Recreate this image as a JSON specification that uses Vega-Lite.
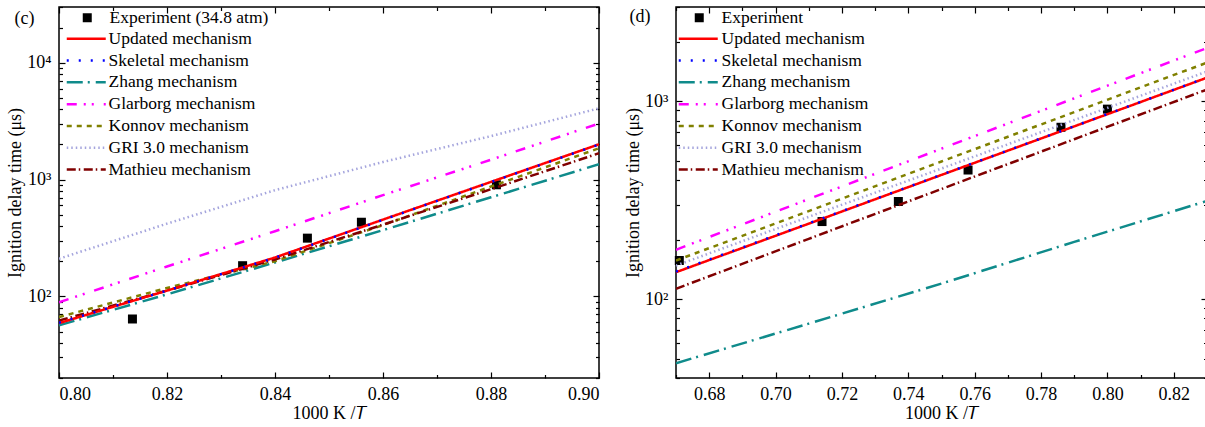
{
  "$schema": "https://vega.github.io/schema/vega-lite/v6.json",
  "padding": {"left": 5, "top": 5, "right": 2, "bottom": 2},
  "config": {
    "font": "Liberation Serif",
    "view": {"stroke": "black", "strokeWidth": 1.5},
    "axis": {"grid": false, "domain": false, "tickColor": "black", "tickWidth": 1.2, "labelFont": "Liberation Serif", "labelFontSize": 18, "labelColor": "black", "titleFont": "Liberation Serif", "titleFontSize": 18, "titleFontWeight": "normal", "titleColor": "black"},
    "legend": {"labelFont": "Liberation Serif", "labelFontSize": 17.5, "labelColor": "black", "padding": 0, "rowPadding": 2.8, "orient": "none"}
  },
  "resolve": {
    "scale": {"color": "independent", "strokeDash": "independent", "strokeWidth": "independent", "shape": "independent"},
    "legend": {"color": "independent", "strokeDash": "independent", "strokeWidth": "independent", "shape": "independent"}
  },
  "datasets": {
    "c_exp": [
      {"label": "Experiment (34.8 atm)", "x": 0.8136, "t": 64},
      {"label": "Experiment (34.8 atm)", "x": 0.834, "t": 183},
      {"label": "Experiment (34.8 atm)", "x": 0.846, "t": 315},
      {"label": "Experiment (34.8 atm)", "x": 0.856, "t": 431},
      {"label": "Experiment (34.8 atm)", "x": 0.881, "t": 902}
    ],
    "d_exp": [
      {"label": "Experiment", "x": 0.671, "t": 157},
      {"label": "Experiment", "x": 0.714, "t": 247},
      {"label": "Experiment", "x": 0.737, "t": 312},
      {"label": "Experiment", "x": 0.758, "t": 450},
      {"label": "Experiment", "x": 0.786, "t": 740},
      {"label": "Experiment", "x": 0.8, "t": 914}
    ],
    "c_lines": [
      {"series": "GRI 3.0 mechanism", "x": 0.80, "t": 210},
      {"series": "GRI 3.0 mechanism", "x": 0.82, "t": 419},
      {"series": "GRI 3.0 mechanism", "x": 0.84, "t": 811},
      {"series": "GRI 3.0 mechanism", "x": 0.86, "t": 1413},
      {"series": "GRI 3.0 mechanism", "x": 0.88, "t": 2355},
      {"series": "GRI 3.0 mechanism", "x": 0.90, "t": 4070},
      {"series": "Zhang mechanism", "x": 0.80, "t": 56.5},
      {"series": "Zhang mechanism", "x": 0.82, "t": 104},
      {"series": "Zhang mechanism", "x": 0.84, "t": 195},
      {"series": "Zhang mechanism", "x": 0.86, "t": 369},
      {"series": "Zhang mechanism", "x": 0.88, "t": 705},
      {"series": "Zhang mechanism", "x": 0.90, "t": 1352},
      {"series": "Glarborg mechanism", "x": 0.80, "t": 89},
      {"series": "Glarborg mechanism", "x": 0.82, "t": 180},
      {"series": "Glarborg mechanism", "x": 0.84, "t": 361},
      {"series": "Glarborg mechanism", "x": 0.86, "t": 735},
      {"series": "Glarborg mechanism", "x": 0.88, "t": 1479},
      {"series": "Glarborg mechanism", "x": 0.90, "t": 3020},
      {"series": "Konnov mechanism", "x": 0.80, "t": 66.5},
      {"series": "Konnov mechanism", "x": 0.82, "t": 118},
      {"series": "Konnov mechanism", "x": 0.84, "t": 200},
      {"series": "Konnov mechanism", "x": 0.86, "t": 407},
      {"series": "Konnov mechanism", "x": 0.88, "t": 871},
      {"series": "Konnov mechanism", "x": 0.90, "t": 1853},
      {"series": "Mathieu mechanism", "x": 0.80, "t": 62},
      {"series": "Mathieu mechanism", "x": 0.82, "t": 112},
      {"series": "Mathieu mechanism", "x": 0.84, "t": 207},
      {"series": "Mathieu mechanism", "x": 0.86, "t": 411},
      {"series": "Mathieu mechanism", "x": 0.88, "t": 826},
      {"series": "Mathieu mechanism", "x": 0.90, "t": 1679},
      {"series": "Updated mechanism", "x": 0.80, "t": 59},
      {"series": "Updated mechanism", "x": 0.82, "t": 112},
      {"series": "Updated mechanism", "x": 0.84, "t": 215},
      {"series": "Updated mechanism", "x": 0.86, "t": 454},
      {"series": "Updated mechanism", "x": 0.88, "t": 955},
      {"series": "Updated mechanism", "x": 0.90, "t": 2003},
      {"series": "Skeletal mechanism", "x": 0.80, "t": 59.5},
      {"series": "Skeletal mechanism", "x": 0.82, "t": 112},
      {"series": "Skeletal mechanism", "x": 0.84, "t": 214},
      {"series": "Skeletal mechanism", "x": 0.86, "t": 452},
      {"series": "Skeletal mechanism", "x": 0.88, "t": 952},
      {"series": "Skeletal mechanism", "x": 0.90, "t": 1995}
    ],
    "d_lines": [
      {"series": "GRI 3.0 mechanism", "x": 0.67, "t": 148},
      {"series": "GRI 3.0 mechanism", "x": 0.71, "t": 261},
      {"series": "GRI 3.0 mechanism", "x": 0.75, "t": 458},
      {"series": "GRI 3.0 mechanism", "x": 0.79, "t": 805},
      {"series": "GRI 3.0 mechanism", "x": 0.83, "t": 1416},
      {"series": "Zhang mechanism", "x": 0.67, "t": 47.5},
      {"series": "Zhang mechanism", "x": 0.71, "t": 75.3},
      {"series": "Zhang mechanism", "x": 0.75, "t": 120},
      {"series": "Zhang mechanism", "x": 0.79, "t": 195},
      {"series": "Zhang mechanism", "x": 0.83, "t": 314},
      {"series": "Glarborg mechanism", "x": 0.67, "t": 178},
      {"series": "Glarborg mechanism", "x": 0.71, "t": 321},
      {"series": "Glarborg mechanism", "x": 0.75, "t": 577},
      {"series": "Glarborg mechanism", "x": 0.79, "t": 1037},
      {"series": "Glarborg mechanism", "x": 0.83, "t": 1862},
      {"series": "Konnov mechanism", "x": 0.67, "t": 157},
      {"series": "Konnov mechanism", "x": 0.71, "t": 279},
      {"series": "Konnov mechanism", "x": 0.75, "t": 497},
      {"series": "Konnov mechanism", "x": 0.79, "t": 883},
      {"series": "Konnov mechanism", "x": 0.83, "t": 1570},
      {"series": "Mathieu mechanism", "x": 0.67, "t": 113},
      {"series": "Mathieu mechanism", "x": 0.71, "t": 202},
      {"series": "Mathieu mechanism", "x": 0.75, "t": 361},
      {"series": "Mathieu mechanism", "x": 0.79, "t": 644},
      {"series": "Mathieu mechanism", "x": 0.83, "t": 1148},
      {"series": "Updated mechanism", "x": 0.67, "t": 137},
      {"series": "Updated mechanism", "x": 0.71, "t": 241},
      {"series": "Updated mechanism", "x": 0.75, "t": 425},
      {"series": "Updated mechanism", "x": 0.79, "t": 748},
      {"series": "Updated mechanism", "x": 0.83, "t": 1318},
      {"series": "Skeletal mechanism", "x": 0.67, "t": 138},
      {"series": "Skeletal mechanism", "x": 0.71, "t": 242},
      {"series": "Skeletal mechanism", "x": 0.75, "t": 426},
      {"series": "Skeletal mechanism", "x": 0.79, "t": 749},
      {"series": "Skeletal mechanism", "x": 0.83, "t": 1320}
    ]
  },
  "spacing": 77,
  "bounds": "flush",
  "hconcat": [
    {
      "width": 540,
      "height": 371,
      "resolve": {"scale": {"x": "independent", "y": "independent"}},
      "layer": [
        {
          "data": {"name": "c_exp"},
          "mark": {"type": "point", "shape": "square", "filled": true, "size": 81, "color": "black", "opacity": 1},
          "encoding": {
            "x": {"field": "x", "type": "quantitative", "scale": {"domain": [0.8, 0.9], "nice": false, "zero": false},
              "axis": {"orient": "top", "title": "(c)", "titleX": -45, "titleY": 11, "titleAlign": "left", "titleBaseline": "middle", "titleAngle": 0, "labels": false, "values": [0.8, 0.81, 0.82, 0.83, 0.84, 0.85, 0.86, 0.87, 0.88, 0.89, 0.9],
                "tickSize": {"condition": {"test": "round(datum.value*100) % 2 == 0", "value": -6}, "value": -3.5}}},
            "y": {"field": "t", "type": "quantitative", "scale": {"type": "log", "domain": [20, 30000], "nice": false},
              "axis": {"orient": "right", "title": null, "labels": false, "values": [20, 30, 40, 50, 60, 70, 80, 90, 100, 200, 300, 400, 500, 600, 700, 800, 900, 1000, 2000, 3000, 4000, 5000, 6000, 7000, 8000, 9000, 10000, 20000, 30000],
                "tickSize": {"condition": {"test": "indexof([100,1000,10000], datum.value) >= 0", "value": -6}, "value": -3.5}}},
            "shape": {"field": "label", "type": "nominal", "scale": {"domain": ["Experiment (34.8 atm)"], "range": ["square"]},
              "legend": {"title": null, "legendX": 19.5, "legendY": 2, "symbolSize": 81, "symbolFillColor": "black", "symbolStrokeColor": "black", "symbolStrokeWidth": 0, "labelOffset": 13.5}}
          }
        },
        {
          "data": {"name": "c_lines"},
          "mark": {"type": "line", "clip": true},
          "encoding": {
            "x": {"field": "x", "type": "quantitative", "scale": {"domain": [0.8, 0.9], "nice": false, "zero": false},
              "axis": {"orient": "bottom", "title": "1000 K /𝑇", "values": [0.8, 0.81, 0.82, 0.83, 0.84, 0.85, 0.86, 0.87, 0.88, 0.89, 0.9],
                "labelExpr": "round(datum.value*100) % 2 == 0 ? format(datum.value, '.2f') : ''",
                "labelPadding": 13, "titlePadding": 1,
                "tickSize": {"condition": {"test": "round(datum.value*100) % 2 == 0", "value": -6}, "value": -3.5}}},
            "y": {"field": "t", "type": "quantitative", "scale": {"type": "log", "domain": [20, 30000], "nice": false},
              "axis": {"orient": "left", "title": "Ignition delay time (μs)", "values": [20, 30, 40, 50, 60, 70, 80, 90, 100, 200, 300, 400, 500, 600, 700, 800, 900, 1000, 2000, 3000, 4000, 5000, 6000, 7000, 8000, 9000, 10000, 20000, 30000],
                "labelExpr": "datum.value == 100 ? '10²' : datum.value == 1000 ? '10³' : datum.value == 10000 ? '10⁴' : ''",
                "labelPadding": 14, "titlePadding": 2,
                "tickSize": {"condition": {"test": "indexof([100,1000,10000], datum.value) >= 0", "value": -6}, "value": -3.5}}},
            "color": {"field": "series", "type": "nominal",
              "scale": {"domain": ["Updated mechanism", "Skeletal mechanism", "Zhang mechanism", "Glarborg mechanism", "Konnov mechanism", "GRI 3.0 mechanism", "Mathieu mechanism"],
                "range": ["#FF0000", "#0000FF", "#0F8B8B", "#FF00FF", "#808000", "#A5A5DD", "#800000"]},
              "legend": {"title": null, "legendX": 18.5, "legendY": 23, "symbolType": "M-3.9,0H3.9", "symbolSize": 100, "symbolStrokeWidth": 2.5, "labelOffset": 13.5}},
            "strokeDash": {"field": "series", "type": "nominal",
              "scale": {"domain": ["Updated mechanism", "Skeletal mechanism", "Zhang mechanism", "Glarborg mechanism", "Konnov mechanism", "GRI 3.0 mechanism", "Mathieu mechanism"],
                "range": [[1, 0], [2, 10], [16, 5, 2, 6], [10, 7, 2, 6, 2, 10], [5, 5], [1.5, 3], [9, 3, 1.5, 3.5]]},
              "legend": {"title": null, "legendX": 18.5, "legendY": 23, "symbolType": "M-3.9,0H3.9", "symbolSize": 100, "symbolStrokeWidth": 2.5, "labelOffset": 13.5}},
            "strokeWidth": {"field": "series", "type": "nominal",
              "scale": {"domain": ["Updated mechanism", "Skeletal mechanism", "Zhang mechanism", "Glarborg mechanism", "Konnov mechanism", "GRI 3.0 mechanism", "Mathieu mechanism"],
                "range": [2.5, 2.5, 2.5, 2.5, 3, 1.5, 2.5]}, "legend": null}
          }
        }
      ]
    },
    {
      "width": 531,
      "height": 371,
      "resolve": {"scale": {"x": "independent", "y": "independent"}},
      "layer": [
        {
          "data": {"name": "d_exp"},
          "mark": {"type": "point", "shape": "square", "filled": true, "size": 81, "color": "black", "opacity": 1},
          "encoding": {
            "x": {"field": "x", "type": "quantitative", "scale": {"domain": [0.67, 0.83], "nice": false, "zero": false},
              "axis": {"orient": "top", "title": "(d)", "titleX": -47, "titleY": 9, "titleAlign": "left", "titleBaseline": "middle", "titleAngle": 0, "labels": false, "values": [0.67, 0.68, 0.69, 0.7, 0.71, 0.72, 0.73, 0.74, 0.75, 0.76, 0.77, 0.78, 0.79, 0.8, 0.81, 0.82, 0.83],
                "tickSize": {"condition": {"test": "round(datum.value*100) % 2 == 0", "value": -6}, "value": -3.5}}},
            "y": {"field": "t", "type": "quantitative", "scale": {"type": "log", "domain": [40, 3000], "nice": false},
              "axis": {"orient": "right", "title": null, "labels": false, "values": [40, 50, 60, 70, 80, 90, 100, 200, 300, 400, 500, 600, 700, 800, 900, 1000, 2000, 3000],
                "tickSize": {"condition": {"test": "indexof([100,1000], datum.value) >= 0", "value": -6}, "value": -3.5}}},
            "shape": {"field": "label", "type": "nominal", "scale": {"domain": ["Experiment"], "range": ["square"]},
              "legend": {"title": null, "legendX": 14.5, "legendY": 2, "symbolSize": 81, "symbolFillColor": "black", "symbolStrokeColor": "black", "symbolStrokeWidth": 0, "labelOffset": 13.5}}
          }
        },
        {
          "data": {"name": "d_lines"},
          "mark": {"type": "line", "clip": true},
          "encoding": {
            "x": {"field": "x", "type": "quantitative", "scale": {"domain": [0.67, 0.83], "nice": false, "zero": false},
              "axis": {"orient": "bottom", "title": "1000 K /𝑇", "values": [0.67, 0.68, 0.69, 0.7, 0.71, 0.72, 0.73, 0.74, 0.75, 0.76, 0.77, 0.78, 0.79, 0.8, 0.81, 0.82, 0.83],
                "labelExpr": "round(datum.value*100) % 2 == 0 ? format(datum.value, '.2f') : ''",
                "labelPadding": 13, "titlePadding": 1,
                "tickSize": {"condition": {"test": "round(datum.value*100) % 2 == 0", "value": -6}, "value": -3.5}}},
            "y": {"field": "t", "type": "quantitative", "scale": {"type": "log", "domain": [40, 3000], "nice": false},
              "axis": {"orient": "left", "title": "Ignition delay time (μs)", "values": [40, 50, 60, 70, 80, 90, 100, 200, 300, 400, 500, 600, 700, 800, 900, 1000, 2000, 3000],
                "labelExpr": "datum.value == 100 ? '10²' : datum.value == 1000 ? '10³' : ''",
                "labelPadding": 14, "titlePadding": 2,
                "tickSize": {"condition": {"test": "indexof([100,1000], datum.value) >= 0", "value": -6}, "value": -3.5}}},
            "color": {"field": "series", "type": "nominal",
              "scale": {"domain": ["Updated mechanism", "Skeletal mechanism", "Zhang mechanism", "Glarborg mechanism", "Konnov mechanism", "GRI 3.0 mechanism", "Mathieu mechanism"],
                "range": ["#FF0000", "#0000FF", "#0F8B8B", "#FF00FF", "#808000", "#A5A5DD", "#800000"]},
              "legend": {"title": null, "legendX": 13.5, "legendY": 23, "symbolType": "M-3.9,0H3.9", "symbolSize": 100, "symbolStrokeWidth": 2.5, "labelOffset": 14.5}},
            "strokeDash": {"field": "series", "type": "nominal",
              "scale": {"domain": ["Updated mechanism", "Skeletal mechanism", "Zhang mechanism", "Glarborg mechanism", "Konnov mechanism", "GRI 3.0 mechanism", "Mathieu mechanism"],
                "range": [[1, 0], [2, 10], [16, 5, 2, 6], [10, 7, 2, 6, 2, 10], [5, 5], [1.5, 3], [9, 3, 1.5, 3.5]]},
              "legend": {"title": null, "legendX": 13.5, "legendY": 23, "symbolType": "M-3.9,0H3.9", "symbolSize": 100, "symbolStrokeWidth": 2.5, "labelOffset": 14.5}},
            "strokeWidth": {"field": "series", "type": "nominal",
              "scale": {"domain": ["Updated mechanism", "Skeletal mechanism", "Zhang mechanism", "Glarborg mechanism", "Konnov mechanism", "GRI 3.0 mechanism", "Mathieu mechanism"],
                "range": [2.5, 2.5, 2.5, 2.5, 3, 1.5, 2.5]}, "legend": null}
          }
        }
      ]
    }
  ]
}
